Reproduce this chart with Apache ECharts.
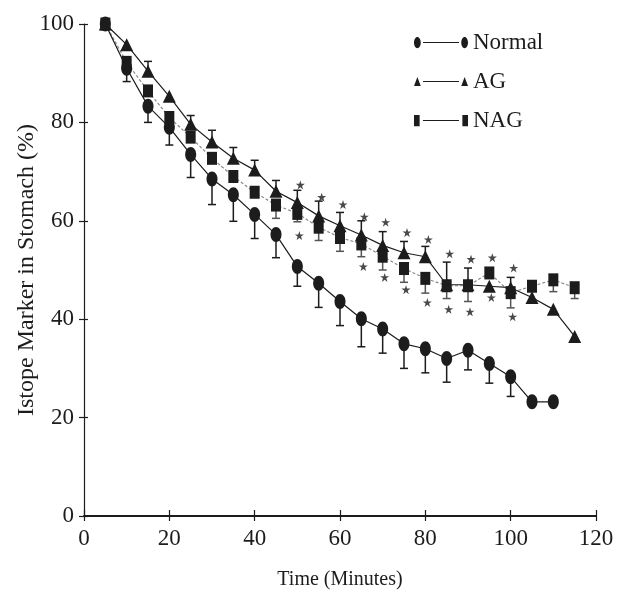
<!DOCTYPE html>
<html>
<head>
<meta charset="utf-8">
<script src="https://cdn.jsdelivr.net/npm/echarts@6/dist/echarts.min.js"></script>
<style>
html, body { margin: 0; padding: 0; background: #fff; }
#main { width: 625px; height: 594px; }
</style>
</head>
<body>
<div id="main"></div>
<script>
// time points (minutes)
var times = [5, 10, 15, 20, 25, 30, 35, 40, 45, 50, 55, 60, 65, 70, 75, 80, 85, 90, 95, 100, 105, 110, 115];

// Normal group
var normalVals = [100, 91, 83.3, 79, 73.5, 68.5, 65.3, 61.3, 57.2, 50.7, 47.3, 43.6, 40.1, 38, 35, 34, 32, 33.7, 31, 28.3, 23.2, 23.2, null];
var normalErr = [0, 2.7, 3.3, 3.6, 4.7, 5.2, 5.4, 4.9, 4.7, 4, 4.9, 4.9, 5.7, 4.9, 5, 4.9, 4.8, 4, 4, 4, 0, 0, 0];

// AG group
var agVals = [100, 95.8, 90.4, 85.3, 79.6, 76, 72.7, 70.3, 66, 63.7, 61, 59, 57.1, 55, 53.5, 52.7, 47, 47, 46.7, 46.4, 44.4, 42, 36.5];
var agErr = [0, 0, 2, 0, 1.8, 2.4, 2.2, 2, 2.2, 2.5, 3, 2.7, 2.9, 2.8, 2.3, 2.1, 4.6, 3.4, 0, 2.1, 0, 0, 0];

// NAG group
var nagVals = [100, 92.2, 86.4, 81, 77, 72.7, 69, 65.8, 63.2, 61.5, 58.7, 56.6, 55.3, 52.8, 50.3, 48.3, 46.8, 46.8, 49.4, 45.4, 46.7, 48, 46.4];
var nagErr = [0, 0, 0, 1.5, 0, 0, 0, 0, 2.7, 1.7, 2.7, 2.8, 2.6, 2.8, 2.8, 3, 2.6, 3.2, 0, 3.1, 0, 2.4, 2.2];

// significance marks
var starUpTimes = [50, 55, 60, 65, 70, 75, 80, 85, 90, 95, 100];
var starUpVals = [67.3, 64.8, 63.3, 60.8, 59.7, 57.6, 56.2, 53.3, 52.2, 52.5, 50.4];
var starLowTimes = [50, 65, 70, 75, 80, 85, 90, 95, 100];
var starLowVals = [57, 50.7, 48.5, 46, 43.4, 42, 41.5, 44.4, 40.5];

var xTicks = [0, 20, 40, 60, 80, 100, 120];
var yTicks = [0, 20, 40, 60, 80, 100];

var FONT = "Liberation Serif";
var INK = "#1c1c1c";

var ellipsePath = "path://M5 0 C7.8 0 10 3.1 10 7 C10 10.9 7.8 14 5 14 C2.2 14 0 10.9 0 7 C0 3.1 2.2 0 5 0 Z";
var trianglePath = "path://M5 0 L10 10 L0 10 Z";
var squarePath = "path://M0 0 L10 0 L10 12 L0 12 Z";
var starPath = "path://M5 0 L6.2 3.6 L10 3.6 L6.9 5.8 L8.1 9.5 L5 7.2 L1.9 9.5 L3.1 5.8 L0 3.6 L3.8 3.6 Z";

// legend icons: symbol - line - symbol
var legNormal = "path://M3 0 C4.7 0 6 2.2 6 5 C6 7.8 4.7 10 3 10 C1.3 10 0 7.8 0 5 C0 2.2 1.3 0 3 0 Z M8 4.5 L40 4.5 L40 5.5 L8 5.5 Z M45 0 C46.7 0 48 2.2 48 5 C48 7.8 46.7 10 45 10 C43.3 10 42 7.8 42 5 C42 2.2 43.3 0 45 0 Z";
var legAG = "path://M3 1 L6 9 L0 9 Z M8 4.5 L40 4.5 L40 5.5 L8 5.5 Z M45 1 L48 9 L42 9 Z";
var legNAG = "path://M0 0 L5 0 L5 10 L0 10 Z M8 4.6 L40 4.6 L40 5.4 L8 5.4 Z M43 0 L48 0 L48 10 L43 10 Z";

function pairs(vals) {
	var out = [];
	for (var i = 0; i < times.length; i++) {
		if (vals[i] !== null) out.push([times[i], vals[i]]);
	}
	return out;
}

// error bar data: [x, value, end]
function errData(vals, errs, dir) {
	var out = [];
	for (var i = 0; i < times.length; i++) {
		if (vals[i] !== null && errs[i] > 0) {
			out.push([times[i], vals[i], vals[i] + dir * errs[i]]);
		}
	}
	return out;
}

function zip(xs, ys) {
	return xs.map(function (x, i) { return [x, ys[i]]; });
}

function errRender(color) {
	return function (params, api) {
		var p0 = api.coord([api.value(0), api.value(1)]);
		var p1 = api.coord([api.value(0), api.value(2)]);
		var st = { stroke: color, lineWidth: 1.5 };
		return {
			type: "group",
			children: [
				{ type: "line", shape: { x1: p0[0], y1: p0[1], x2: p1[0], y2: p1[1] }, style: st },
				{ type: "line", shape: { x1: p1[0] - 4, y1: p1[1], x2: p1[0] + 4, y2: p1[1] }, style: st }
			]
		};
	};
}

var baseX = {
	type: "value", min: 0, max: 120, interval: 20,
	splitLine: { show: false }
};
var baseY = {
	type: "value", min: 0, max: 100, interval: 20,
	splitLine: { show: false }
};

var myChart = echarts.init(document.getElementById("main"), null, { renderer: "canvas" });

var option = {
	backgroundColor: "#fff",
	animation: false,
	grid: { left: 84, right: 29, top: 24, bottom: 78, containLabel: false, outerBoundsMode: "none" },
	legend: {
		orient: "vertical",
		left: 409,
		top: 26,
		itemWidth: 54,
		itemHeight: 12,
		itemGap: 16,
		textStyle: { fontFamily: FONT, fontSize: 23, color: INK },
		data: [
			{ name: "Normal", icon: legNormal },
			{ name: "AG", icon: legAG },
			{ name: "NAG", icon: legNAG }
		]
	},
	xAxis: [
		Object.assign({}, baseX, {
			position: "bottom",
			name: "Time (Minutes)",
			nameLocation: "middle",
			nameGap: 54,
			nameMoveOverlap: false,
			nameTextStyle: { fontFamily: FONT, fontSize: 20, color: INK },
			axisLine: { lineStyle: { color: INK, width: 2 } },
			axisTick: { length: 5, lineStyle: { color: INK, width: 1.2 } },
			axisLabel: { fontFamily: FONT, fontSize: 23, color: INK, margin: 11,
				formatter: function (v) { return xTicks.indexOf(v) >= 0 ? v : ""; } }
		}),
		Object.assign({}, baseX, {
			position: "bottom",
			axisLine: { show: false },
			axisTick: { inside: true, length: 6, lineStyle: { color: INK, width: 1.2 } },
			axisLabel: { show: false }
		})
	],
	yAxis: [
		Object.assign({}, baseY, {
			position: "left",
			name: "Istope Marker in Stomach (%)",
			nameLocation: "middle",
			nameGap: 45,
			nameMoveOverlap: false,
			nameTextStyle: { fontFamily: FONT, fontSize: 24, color: INK },
			axisLine: { lineStyle: { color: INK, width: 1.2 } },
			axisTick: { length: 5, lineStyle: { color: INK, width: 1.2 } },
			axisLabel: { fontFamily: FONT, fontSize: 23, color: INK, margin: 10,
				formatter: function (v) { return yTicks.indexOf(v) >= 0 ? v : ""; } }
		}),
		Object.assign({}, baseY, {
			position: "left",
			axisLine: { show: false },
			axisTick: { inside: true, length: 4, lineStyle: { color: INK, width: 1.2 } },
			axisLabel: { show: false }
		})
	],
	series: [
		{
			type: "custom", name: "errNormal", renderItem: errRender(INK),
			data: errData(normalVals, normalErr, -1), z: 1, silent: true
		},
		{
			type: "custom", name: "errAG", renderItem: errRender(INK),
			data: errData(agVals, agErr, 1), z: 1, silent: true
		},
		{
			type: "custom", name: "errNAG", renderItem: errRender("#555"),
			data: errData(nagVals, nagErr, -1), z: 1, silent: true
		},
		{
			name: "NAG", type: "line", data: pairs(nagVals), z: 3,
			symbol: squarePath, symbolSize: [10, 13],
			itemStyle: { color: INK },
			lineStyle: { color: "#8a8a8a", width: 1.2, type: [3, 2] }
		},
		{
			name: "AG", type: "line", data: pairs(agVals), z: 4,
			symbol: trianglePath, symbolSize: [13, 13],
			itemStyle: { color: INK },
			lineStyle: { color: INK, width: 1.2 }
		},
		{
			name: "Normal", type: "line", data: pairs(normalVals), z: 5,
			symbol: ellipsePath, symbolSize: [11, 15],
			itemStyle: { color: INK },
			lineStyle: { color: INK, width: 1.2 }
		},
		{
			name: "starUp", type: "scatter", data: zip(starUpTimes, starUpVals), z: 6,
			symbol: starPath, symbolSize: 9, symbolOffset: [3, 0],
			itemStyle: { color: INK }
		},
		{
			name: "starLow", type: "scatter", data: zip(starLowTimes, starLowVals), z: 6,
			symbol: starPath, symbolSize: 9, symbolOffset: [2, 0],
			itemStyle: { color: INK }
		}
	]
};

myChart.setOption(option);
</script>
</body>
</html>
